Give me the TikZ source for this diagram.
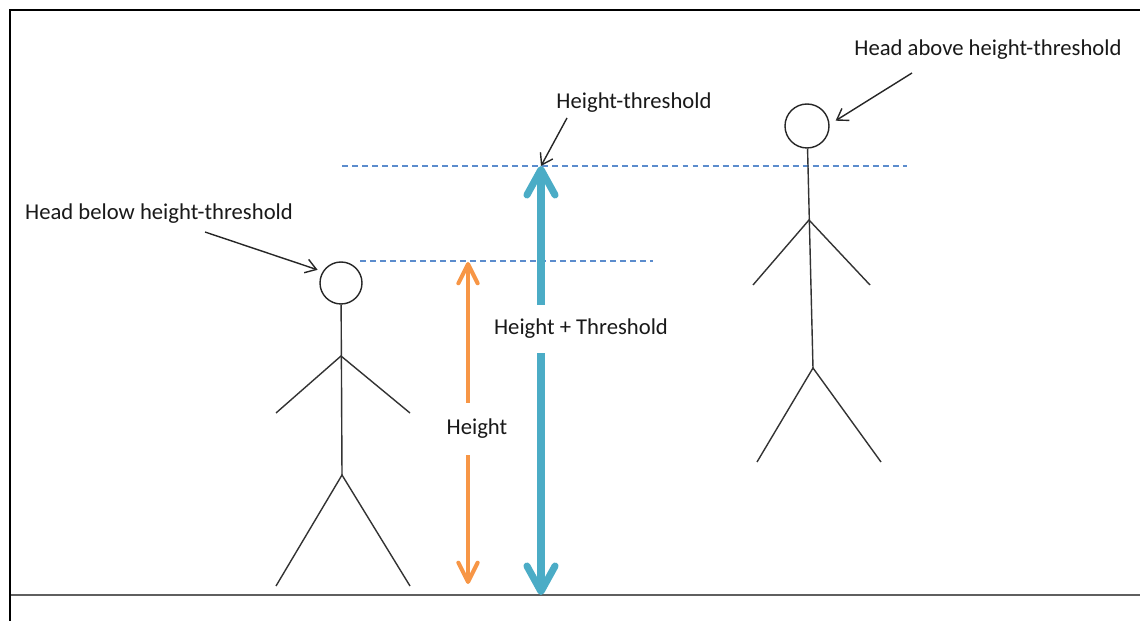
\documentclass[tikz,border=0pt]{standalone}
\usepackage{fontspec}
\setmainfont{Carlito}
\usetikzlibrary{arrows.meta,positioning}
\definecolor{heightcolor}{RGB}{247,150,70}
\definecolor{thresholdcolor}{RGB}{75,172,198}
\definecolor{levelcolor}{RGB}{91,140,205}
\definecolor{groundcolor}{RGB}{95,95,95}

\begin{document}
\begin{tikzpicture}[
    x=0.02cm, y=-0.02cm,
    head/.style={
        circle, draw=black!85, line width=0.8pt,
        minimum size=0.84cm, inner sep=0pt
    },
    stick/.style={draw=black!80, line width=0.8pt},
    level/.style={draw=levelcolor, line width=0.7pt, dash pattern=on 3.4pt off 2.3pt},
    pointer/.style={-{Straight Barb[length=6pt,width=8pt]}, line width=0.8pt, black!85},
    annot/.style={font=\fontsize{12.9}{15}\selectfont, text=black!90, inner sep=1pt},
    gapnote/.style={annot, fill=white, inner xsep=2pt},
    heightarrow/.style={
        {Straight Barb[length=11pt,width=11pt,round]}-{Straight Barb[length=11pt,width=11pt,round]},
        line width=2.3pt, heightcolor
    },
    thresharrow/.style={
        {Straight Barb[length=14.5pt,width=16pt,round]}-{Straight Barb[length=14.5pt,width=16pt,round]},
        line width=4pt, thresholdcolor
    }
]
\useasboundingbox (0,0) rectangle (1140,621);

% Frame and ground
\draw[groundcolor, line width=1.4pt] (10,595) -- (1140,595);
\draw[black, line width=1.6pt] (1140,10) -- (10,10) -- (10,621);

% Level lines
\draw[level] (342,166) -- (907,166);
\draw[level] (360,261) -- (653,261);

% Person below the threshold
\node[head] (lhead) at (341,283) {};
\coordinate (lneck) at (341,356);
\coordinate (lhip) at (342,475);
\draw[stick] (lhead) -- (lhip);
\draw[stick] (276,413) -- (lneck) -- (410,413);
\draw[stick] (276,586) -- (lhip) -- (410,586);

% Person above the threshold
\node[head, minimum size=0.88cm] (rhead) at (807,126) {};
\coordinate (rneck) at (809,220);
\coordinate (rhip) at (813,368);
\draw[stick] (rhead) -- (rhip);
\draw[stick] (753,285) -- (rneck) -- (870,285);
\draw[stick] (757,462) -- (rhip) -- (881,462);

% Height arrows
\coordinate (htop) at (468,262);
\coordinate (hbot) at (468,584);
\coordinate (thrtop) at (541,166);
\coordinate (thrbot) at (541,595);
\draw[heightarrow] (hbot) -- (htop);
\draw[thresharrow] (thrbot) -- (thrtop);
\node[gapnote, minimum height=1.04cm] (heightlbl) at (477,429) {Height};
\node[gapnote, minimum height=0.96cm] (sumlbl) at (581,329) {Height + Threshold};

% Labels
\node[annot] (belowlbl) at (159,214) {Head below height-threshold};
\node[annot] (abovelbl) at (988,50) {Head above height-threshold};
\node[annot] (thrlbl) at (634,103) {Height-threshold};

\coordinate (belowtail) at (205,232);
\coordinate (abovetail) at (912,73);
\coordinate (thrtail) at (567,118);
\draw[pointer, shorten >=3pt] (belowtail) -- (lhead.148);
\draw[pointer, shorten >=4pt] (abovetail) -- (rhead.4);
\draw[pointer] (thrtail) -- (thrtop);

\end{tikzpicture}
\end{document}
